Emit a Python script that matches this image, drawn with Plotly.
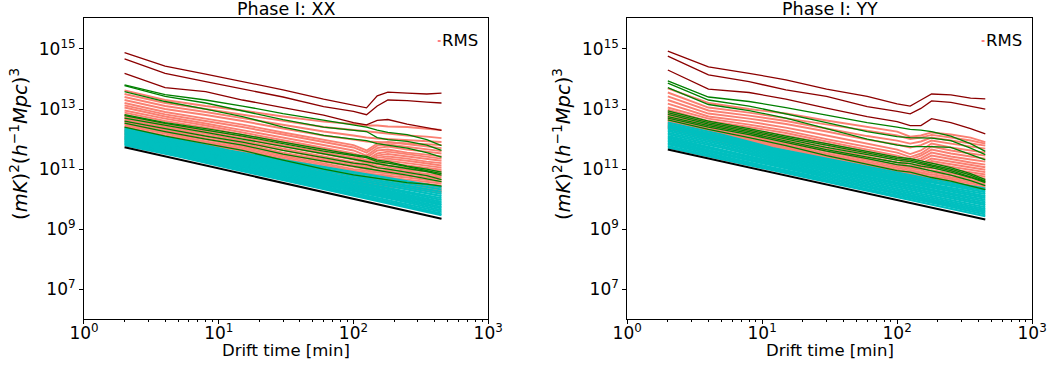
import plotly.graph_objects as go

# ---------------- data (log10 of power) ----------------
T = [2, 4, 8, 15, 30, 60, 100, 125, 150, 180, 250, 350, 450]   # drift time [min]
TC = [2, 5, 12, 30, 80, 200, 450]                              # cyan sampling
TB = [2, 450]                                                   # black reference line

XX_BLACK = [11.73, 9.35]
YY_BLACK = [11.65, 9.32]

XX_DARKRED = [
    [14.88, 14.43, 14.16, 13.91, 13.64, 13.33, 13.14, 13.04, 13.44, 13.56, 13.53, 13.50, 13.53],
    [14.67, 14.19, 13.91, 13.66, 13.40, 13.08, 12.92, 12.81, 13.10, 13.30, 13.28, 13.23, 13.20],
    [14.19, 13.71, 13.58, 13.30, 13.05, 12.80, 12.55, 12.47, 12.62, 12.65, 12.50, 12.38, 12.29],
]
XX_GREEN = [
    [13.80, 13.48, 13.30, 13.10, 12.85, 12.62, 12.47, 12.40, 12.30, 12.22, 12.15, 11.98, 11.78],
    [13.78, 13.42, 13.20, 12.95, 12.65, 12.40, 12.30, 12.25, 12.05, 11.98, 11.92, 11.80, 11.62],
    [13.58, 13.25, 13.00, 12.75, 12.40, 12.12, 12.00, 11.95, 11.85, 11.80, 11.70, 11.55, 11.40],
    [12.81, 12.55, 12.35, 12.15, 11.90, 11.65, 11.48, 11.42, 11.30, 11.25, 11.10, 11.00, 10.90],
    [12.78, 12.52, 12.30, 12.10, 11.85, 11.60, 11.45, 11.38, 11.25, 11.20, 11.08, 10.95, 10.85],
    [12.70, 12.45, 12.22, 12.00, 11.75, 11.50, 11.31, 11.25, 11.18, 11.12, 11.02, 10.92, 10.80],
    [12.60, 12.35, 12.10, 11.90, 11.62, 11.38, 11.20, 11.15, 11.05, 11.00, 10.90, 10.78, 10.65],
    [12.53, 12.25, 12.00, 11.80, 11.50, 11.25, 11.09, 11.02, 10.95, 10.90, 10.80, 10.68, 10.58],
    [12.40, 12.10, 11.85, 11.62, 11.30, 11.00, 10.81, 10.75, 10.70, 10.65, 10.55, 10.50, 10.43],
]
XX_SALMON = [
    [13.62, 13.30, 13.10, 12.95, 12.75, 12.58, 12.50, 12.45, 12.45, 12.42, 12.40, 12.35, 12.30],
    [13.50, 13.20, 13.00, 12.82, 12.60, 12.40, 12.30, 12.25, 12.22, 12.18, 12.12, 12.08, 12.03],
    [13.40, 13.10, 12.90, 12.70, 12.48, 12.25, 12.12, 12.05, 12.02, 12.00, 11.95, 11.92, 11.90],
    [13.30, 13.00, 12.80, 12.60, 12.35, 12.12, 11.98, 11.92, 11.90, 11.88, 11.85, 11.82, 11.80],
    [13.20, 12.90, 12.68, 12.48, 12.22, 11.98, 11.80, 11.62, 11.85, 11.90, 11.82, 11.75, 11.70],
    [13.12, 12.82, 12.60, 12.40, 12.15, 11.90, 11.72, 11.55, 11.78, 11.82, 11.75, 11.66, 11.60],
    [13.05, 12.75, 12.52, 12.30, 12.05, 11.80, 11.62, 11.45, 11.70, 11.75, 11.65, 11.58, 11.52],
    [12.95, 12.68, 12.45, 12.22, 11.95, 11.70, 11.52, 11.38, 11.62, 11.65, 11.55, 11.48, 11.42],
    [12.88, 12.60, 12.38, 12.15, 11.88, 11.62, 11.45, 11.30, 11.52, 11.58, 11.50, 11.42, 11.35],
    [12.80, 12.52, 12.30, 12.08, 11.80, 11.55, 11.38, 11.25, 11.45, 11.50, 11.42, 11.33, 11.28],
    [12.75, 12.48, 12.25, 12.02, 11.75, 11.50, 11.32, 11.20, 11.38, 11.42, 11.35, 11.25, 11.20],
    [12.70, 12.42, 12.18, 11.95, 11.68, 11.42, 11.25, 11.15, 11.30, 11.35, 11.28, 11.18, 11.12],
    [12.65, 12.38, 12.12, 11.90, 11.62, 11.36, 11.18, 11.10, 11.22, 11.28, 11.20, 11.12, 11.05],
    [12.60, 12.32, 12.08, 11.85, 11.55, 11.30, 11.12, 11.05, 11.15, 11.20, 11.12, 11.05, 10.98],
    [12.55, 12.28, 12.02, 11.80, 11.50, 11.25, 11.06, 11.00, 11.08, 11.12, 11.05, 10.98, 10.92],
    [12.50, 12.22, 11.98, 11.75, 11.45, 11.20, 11.00, 10.95, 11.00, 11.05, 10.98, 10.92, 10.85],
    [12.45, 12.18, 11.92, 11.70, 11.40, 11.14, 10.95, 10.90, 10.95, 10.98, 10.92, 10.85, 10.78],
    [12.40, 12.12, 11.88, 11.65, 11.35, 11.08, 10.90, 10.85, 10.88, 10.92, 10.85, 10.78, 10.72],
    [12.35, 12.08, 11.82, 11.60, 11.30, 11.02, 10.85, 10.80, 10.82, 10.85, 10.78, 10.72, 10.65],
    [12.30, 12.02, 11.78, 11.55, 11.25, 10.98, 10.80, 10.75, 10.76, 10.78, 10.72, 10.65, 10.58],
    [12.25, 11.98, 11.72, 11.50, 11.20, 10.92, 10.75, 10.70, 10.70, 10.72, 10.65, 10.58, 10.52],
    [12.20, 11.92, 11.68, 11.45, 11.15, 10.88, 10.70, 10.65, 10.64, 10.66, 10.58, 10.52, 10.45],
    [12.15, 11.88, 11.62, 11.40, 11.10, 10.82, 10.65, 10.60, 10.58, 10.60, 10.52, 10.45, 10.38],
    [12.10, 11.82, 11.58, 11.35, 11.05, 10.78, 10.60, 10.55, 10.52, 10.54, 10.46, 10.38, 10.32],
    [12.05, 11.78, 11.52, 11.30, 11.00, 10.72, 10.55, 10.50, 10.47, 10.48, 10.40, 10.33, 10.27],
    [12.00, 11.72, 11.48, 11.25, 10.95, 10.68, 10.50, 10.45, 10.42, 10.42, 10.35, 10.28, 10.22],
]
XX_CYAN = [
    [11.80, 11.42, 11.03, 10.64, 10.22, 9.83, 9.47],
    [11.84, 11.45, 11.07, 10.68, 10.27, 9.88, 9.52],
    [11.87, 11.49, 11.10, 10.72, 10.31, 9.94, 9.58],
    [11.91, 11.52, 11.14, 10.76, 10.36, 9.99, 9.63],
    [11.94, 11.56, 11.18, 10.80, 10.40, 10.04, 9.69],
    [11.98, 11.59, 11.22, 10.84, 10.45, 10.09, 9.74],
    [12.01, 11.63, 11.26, 10.88, 10.49, 10.14, 9.80],
    [12.05, 11.67, 11.29, 10.92, 10.54, 10.19, 9.85],
    [12.08, 11.70, 11.33, 10.96, 10.58, 10.24, 9.91],
    [12.12, 11.74, 11.37, 11.01, 10.63, 10.30, 9.97],
    [12.16, 11.77, 11.41, 11.05, 10.68, 10.35, 10.03],
    [12.19, 11.81, 11.45, 11.10, 10.73, 10.41, 10.10],
    [12.23, 11.85, 11.49, 11.14, 10.78, 10.47, 10.17],
    [12.27, 11.89, 11.53, 11.19, 10.84, 10.53, 10.24],
    [12.31, 11.93, 11.57, 11.24, 10.90, 10.60, 10.32],
    [12.36, 11.98, 11.62, 11.30, 10.97, 10.67, 10.40],
]

YY_DARKRED = [
    [14.93, 14.40, 14.19, 13.97, 13.66, 13.42, 13.17, 13.10, 13.30, 13.50, 13.47, 13.36, 13.34],
    [14.76, 14.14, 13.91, 13.64, 13.42, 13.08, 12.92, 12.84, 13.02, 13.27, 13.22, 13.10, 13.00],
    [14.30, 13.66, 13.55, 13.33, 13.03, 12.75, 12.58, 12.45, 12.45, 12.68, 12.55, 12.35, 12.17],
]
YY_GREEN = [
    [13.94, 13.40, 13.25, 13.05, 12.80, 12.55, 12.40, 12.32, 12.30, 12.25, 12.10, 11.85, 11.59],
    [13.86, 13.30, 13.10, 12.85, 12.55, 12.25, 12.08, 12.05, 12.05, 12.03, 11.95, 11.70, 11.48],
    [13.71, 13.15, 12.95, 12.70, 12.35, 12.00, 11.80, 11.75, 11.75, 11.75, 11.72, 11.50, 11.31],
    [12.94, 12.60, 12.35, 12.10, 11.85, 11.60, 11.40, 11.35, 11.28, 11.20, 11.05, 10.85, 10.65],
    [12.88, 12.55, 12.30, 12.05, 11.80, 11.55, 11.35, 11.30, 11.22, 11.15, 11.00, 10.80, 10.60],
    [12.82, 12.50, 12.25, 12.00, 11.72, 11.48, 11.30, 11.25, 11.18, 11.10, 10.95, 10.75, 10.58],
    [12.75, 12.45, 12.20, 11.95, 11.65, 11.40, 11.22, 11.18, 11.10, 11.05, 10.90, 10.72, 10.55],
    [12.70, 12.40, 12.15, 11.90, 11.60, 11.35, 11.15, 11.10, 11.02, 10.95, 10.80, 10.62, 10.45],
    [12.64, 12.32, 12.05, 11.78, 11.45, 11.15, 10.95, 10.90, 10.80, 10.72, 10.60, 10.45, 10.32],
]
YY_SALMON = [
    [13.69, 13.20, 13.00, 12.85, 12.62, 12.42, 12.25, 12.08, 12.12, 12.22, 12.15, 12.05, 11.90],
    [13.55, 13.05, 12.88, 12.70, 12.48, 12.28, 12.12, 12.00, 12.05, 12.14, 12.05, 11.95, 11.85],
    [13.42, 12.95, 12.78, 12.60, 12.35, 12.10, 11.95, 11.85, 11.92, 12.05, 11.95, 11.85, 11.78],
    [13.30, 12.85, 12.68, 12.50, 12.25, 11.98, 11.82, 11.72, 11.80, 11.95, 11.85, 11.75, 11.68],
    [13.18, 12.75, 12.58, 12.38, 12.12, 11.85, 11.65, 11.50, 11.62, 11.85, 11.72, 11.62, 11.55],
    [13.05, 12.68, 12.48, 12.28, 12.00, 11.75, 11.55, 11.40, 11.52, 11.75, 11.62, 11.52, 11.45],
    [12.98, 12.60, 12.40, 12.20, 11.92, 11.65, 11.45, 11.32, 11.45, 11.65, 11.52, 11.42, 11.35],
    [12.92, 12.55, 12.32, 12.12, 11.85, 11.58, 11.38, 11.25, 11.36, 11.55, 11.42, 11.32, 11.25],
    [12.86, 12.50, 12.26, 12.05, 11.78, 11.50, 11.30, 11.18, 11.28, 11.45, 11.33, 11.22, 11.15],
    [12.80, 12.45, 12.20, 11.98, 11.70, 11.42, 11.22, 11.10, 11.18, 11.35, 11.24, 11.14, 11.06],
    [12.76, 12.40, 12.15, 11.92, 11.64, 11.36, 11.16, 11.05, 11.12, 11.27, 11.16, 11.06, 10.98],
    [12.72, 12.36, 12.10, 11.87, 11.58, 11.30, 11.10, 11.00, 11.06, 11.20, 11.08, 10.98, 10.90],
    [12.68, 12.32, 12.05, 11.82, 11.52, 11.24, 11.04, 10.95, 11.00, 11.12, 11.00, 10.90, 10.82],
    [12.64, 12.28, 12.00, 11.77, 11.47, 11.18, 10.98, 10.90, 10.94, 11.04, 10.93, 10.83, 10.75],
    [12.60, 12.24, 11.96, 11.72, 11.42, 11.13, 10.93, 10.86, 10.88, 10.96, 10.86, 10.76, 10.68],
    [12.56, 12.20, 11.92, 11.68, 11.37, 11.08, 10.88, 10.82, 10.83, 10.89, 10.80, 10.70, 10.62],
    [12.52, 12.16, 11.88, 11.63, 11.32, 11.03, 10.83, 10.77, 10.78, 10.83, 10.74, 10.64, 10.56],
    [12.48, 12.12, 11.84, 11.58, 11.27, 10.98, 10.78, 10.72, 10.73, 10.76, 10.68, 10.58, 10.50],
    [12.44, 12.08, 11.80, 11.54, 11.22, 10.93, 10.73, 10.68, 10.68, 10.70, 10.62, 10.52, 10.45],
    [12.40, 12.04, 11.76, 11.50, 11.18, 10.88, 10.68, 10.63, 10.63, 10.64, 10.56, 10.47, 10.40],
    [12.36, 12.00, 11.72, 11.45, 11.13, 10.84, 10.63, 10.58, 10.58, 10.58, 10.50, 10.42, 10.35],
]
YY_CYAN = [
    [11.72, 11.33, 10.96, 10.58, 10.16, 9.78, 9.43],
    [11.77, 11.38, 11.00, 10.63, 10.21, 9.84, 9.49],
    [11.83, 11.43, 11.05, 10.68, 10.26, 9.89, 9.55],
    [11.88, 11.49, 11.10, 10.73, 10.32, 9.95, 9.61],
    [11.94, 11.54, 11.15, 10.78, 10.37, 10.00, 9.67],
    [11.99, 11.60, 11.20, 10.83, 10.42, 10.06, 9.73],
    [12.05, 11.65, 11.25, 10.88, 10.48, 10.12, 9.80],
    [12.10, 11.71, 11.30, 10.94, 10.53, 10.17, 9.86],
    [12.16, 11.76, 11.35, 10.99, 10.58, 10.23, 9.92],
    [12.21, 11.82, 11.40, 11.04, 10.63, 10.28, 9.98],
    [12.27, 11.87, 11.45, 11.09, 10.69, 10.34, 10.04],
    [12.32, 11.93, 11.50, 11.14, 10.74, 10.40, 10.10],
    [12.38, 11.98, 11.55, 11.19, 10.79, 10.45, 10.17],
    [12.43, 12.04, 11.60, 11.25, 10.85, 10.51, 10.23],
    [12.49, 12.09, 11.65, 11.30, 10.90, 10.56, 10.29],
    [12.55, 12.15, 11.70, 11.35, 10.95, 10.62, 10.35],
]

TITLES = ["Phase I: XX", "Phase I: YY"]
X_TICKVALS = [1, 10, 100, 1000]
X_TICKTEXT = ["10<sup>0</sup>", "10<sup>1</sup>", "10<sup>2</sup>", "10<sup>3</sup>"]
Y_TICKVALS = [1e7, 1e9, 1e11, 1e13, 1e15]
Y_TICKTEXT = ["10<sup>7</sup>", "10<sup>9</sup>", "10<sup>11</sup>", "10<sup>13</sup>", "10<sup>15</sup>"]
X_MINOR = [2, 3, 4, 5, 6, 7, 8, 9, 20, 30, 40, 50, 60, 70, 80, 90,
           200, 300, 400, 500, 600, 700, 800, 900]

# ---------------- figure ----------------
W, H = 1061, 367
FONT = "DejaVu Sans"
C_DARKRED = "#8b0000"
C_GREEN = "#008000"
C_SALMON = "#fa8072"
C_CYAN = "#00bfbf"

fig = go.Figure()


def add_lines(panel, xs, rows, color, width):
    xa = "x" if panel == 0 else "x2"
    ya = "y" if panel == 0 else "y2"
    for r in rows:
        fig.add_trace(go.Scatter(
            x=xs, y=[10 ** v for v in r], mode="lines",
            line=dict(color=color, width=width),
            xaxis=xa, yaxis=ya, showlegend=False, hoverinfo="skip"))


for p, (salmon, cyan, green, darkred, black) in enumerate([
        (XX_SALMON, XX_CYAN, XX_GREEN, XX_DARKRED, XX_BLACK),
        (YY_SALMON, YY_CYAN, YY_GREEN, YY_DARKRED, YY_BLACK)]):
    add_lines(p, T, salmon, C_SALMON, 1.9)
    add_lines(p, TC, cyan, C_CYAN, 2.2)
    add_lines(p, T, green, C_GREEN, 1.3)
    add_lines(p, T, darkred, C_DARKRED, 1.3)
    add_lines(p, TB, [black], "black", 2)

# panel geometry (pixels)
PANELS = [(71, 487), (630, 1046.7)]
TOP, BOT = 18.3, 319.3

axis_common = dict(showline=True, mirror=True, linecolor="black", linewidth=1,
                   showgrid=False, zeroline=False, ticks="outside", ticklen=4,
                   tickcolor="black", tickfont=dict(family=FONT, size=17, color="black"))

layout = dict(width=W, height=H, margin=dict(l=0, r=0, t=0, b=0),
              paper_bgcolor="white", plot_bgcolor="white", showlegend=False)
ann = []
shapes = []
for i, (x0, x1) in enumerate(PANELS):
    sfx = "" if i == 0 else "2"
    layout["xaxis" + sfx] = dict(type="log", range=[0, 3], domain=[x0 / W, x1 / W],
                                 anchor="y" + sfx, tickvals=X_TICKVALS, ticktext=X_TICKTEXT,
                                 ticklabelstandoff=-6,
                                 minor=dict(ticks="outside", ticklen=2, tickcolor="black",
                                            tickvals=X_MINOR, showgrid=False),
                                 **axis_common)
    layout["yaxis" + sfx] = dict(type="log", range=[6, 16.02], domain=[1 - BOT / H, 1 - TOP / H],
                                 anchor="x" + sfx, tickvals=Y_TICKVALS, ticktext=Y_TICKTEXT,
                                 **axis_common)
    cx = (x0 + x1) / 2 / W
    ann.append(dict(text=TITLES[i], x=cx, y=1 - 9.5 / H, xref="paper", yref="paper",
                    showarrow=False, xanchor="center", yanchor="middle",
                    font=dict(family=FONT, size=17.5, color="black")))
    ann.append(dict(text="Drift time [min]", x=cx, y=1 - 350 / H, xref="paper", yref="paper",
                    showarrow=False, xanchor="center", yanchor="middle",
                    font=dict(family=FONT, size=16.5, color="black")))
    ann.append(dict(text="(<i>mK</i>)<sup>2</sup>(<i>h</i><sup>−1</sup><i>Mpc</i>)<sup>3</sup>",
                    x=(x0 - 67) / W, y=1 - 144 / H, xref="paper", yref="paper",
                    showarrow=False, xanchor="center", yanchor="middle", textangle=-90,
                    font=dict(family=FONT, size=19.5, color="black")))
    ann.append(dict(text="RMS", x=(x1 - 50) / W, y=1 - 41 / H, xref="paper", yref="paper",
                    showarrow=False, xanchor="left", yanchor="middle",
                    font=dict(family=FONT, size=16.5, color="black")))
    shapes.append(dict(type="line", xref="paper", yref="paper",
                       x0=(x1 - 52) / W, x1=(x1 - 49) / W, y0=1 - 41 / H, y1=1 - 41 / H,
                       line=dict(color="red", width=1)))

layout["annotations"] = ann
layout["shapes"] = shapes
fig.update_layout(**layout)
fig.write_html("out.html")
